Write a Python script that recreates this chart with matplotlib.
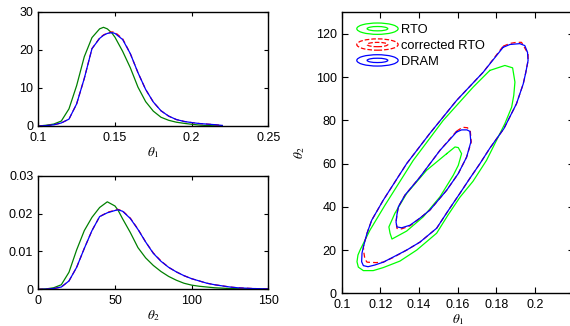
import matplotlib
matplotlib.use("Agg")
import matplotlib.pyplot as plt
from matplotlib.legend_handler import HandlerBase
from matplotlib.patches import Ellipse
from matplotlib.lines import Line2D

plt.rcParams["font.family"] = ["Liberation Sans", "DejaVu Sans"]
plt.rcParams["mathtext.fontset"] = "stix"

# ---- marginal density of theta_1 ----
t1_grid = [0.100, 0.105, 0.110, 0.115, 0.120, 0.125, 0.130, 0.135, 0.140, 0.1425,
           0.145, 0.148, 0.150, 0.155, 0.160, 0.165, 0.170, 0.175, 0.180, 0.185,
           0.190, 0.195, 0.200, 0.205, 0.210, 0.215, 0.220]
t1_rto = [0.0, 0.2, 0.5, 1.3, 4.5, 10.6, 18.2, 23.2, 25.5, 25.9,
          25.5, 24.4, 23.3, 19.6, 15.3, 10.2, 6.4, 3.9, 2.3, 1.5,
          1.0, 0.7, 0.45, 0.25, 0.12, 0.05, 0.0]
t1_corr = [0.0, 0.1, 0.3, 0.8, 1.8, 5.8, 12.5, 20.3, 23.1, 23.9,
           24.4, 24.7, 24.6, 22.9, 19.0, 14.0, 9.6, 6.3, 4.0, 2.6,
           1.7, 1.2, 0.9, 0.65, 0.5, 0.35, 0.15]
t1_dram = [0.0, 0.1, 0.3, 0.8, 1.8, 5.8, 12.5, 20.3, 23.0, 23.8,
           24.3, 24.5, 24.3, 22.7, 19.0, 14.0, 9.6, 6.3, 4.0, 2.6,
           1.7, 1.2, 0.9, 0.65, 0.5, 0.35, 0.15]

# ---- marginal density of theta_2 ----
t2_grid = [0, 5, 10, 15, 20, 25, 30, 35, 40, 45, 50, 52, 55, 60, 65, 70, 75, 80,
           85, 90, 95, 100, 105, 110, 115, 120, 125, 130, 140, 150]
t2_rto = [0.0, 0.0001, 0.0004, 0.0012, 0.0045, 0.0104, 0.0155, 0.0190, 0.0216, 0.0231,
          0.0220, 0.0209, 0.0186, 0.0150, 0.0110, 0.0083, 0.0063, 0.0047,
          0.0034, 0.0024, 0.0016, 0.0011, 0.0008, 0.0006, 0.0004, 0.0003, 0.0002,
          0.00015, 0.0001, 0.0]
t2_corr = [0.0, 0.00005, 0.0002, 0.0006, 0.0022, 0.0058, 0.0108, 0.0155, 0.0192, 0.0203,
           0.0209, 0.0211, 0.0207, 0.0188, 0.0159, 0.0125, 0.0096, 0.0075,
           0.0058, 0.0046, 0.0036, 0.0028, 0.0022, 0.0016, 0.0012, 0.0009, 0.0006,
           0.0004, 0.0002, 0.0001]
t2_dram = [0.0, 0.00005, 0.0002, 0.0006, 0.0022, 0.0058, 0.0108, 0.0155, 0.0192, 0.0202,
           0.0208, 0.0210, 0.0206, 0.0187, 0.0158, 0.0125, 0.0095, 0.0074,
           0.0058, 0.0046, 0.0036, 0.0028, 0.0022, 0.0016, 0.0012, 0.0009, 0.0006,
           0.0004, 0.0002, 0.0001]

# ---- joint posterior contours (theta_1, theta_2), two levels per method ----
rto_outer_t1 = [0.1766, 0.1844, 0.1884, 0.1896, 0.1890, 0.1879, 0.1844, 0.1801, 0.1749,
                0.1679, 0.1611, 0.1549, 0.1491, 0.1388, 0.1301, 0.1215, 0.1163, 0.1112,
                0.1086, 0.1079, 0.1084, 0.1095, 0.1146, 0.1224, 0.1370, 0.1525, 0.1680, 0.1766]
rto_outer_t2 = [103.1, 105.4, 104.3, 97.7, 91.6, 86.1, 78.5, 70.8, 61.5,
                51.8, 44.4, 36.1, 27.8, 20.0, 14.9, 11.9, 10.5, 10.5,
                12.1, 14.6, 17.7, 20.0, 29.2, 40.8, 61.5, 80.0, 95.4, 103.1]
rto_inner_t1 = [0.1543, 0.1586, 0.1603, 0.1620, 0.1603, 0.1577, 0.1508, 0.1422, 0.1336,
                0.1260, 0.1250, 0.1244, 0.1275, 0.1336, 0.1439, 0.1543]
rto_inner_t2 = [64.6, 67.7, 67.4, 64.6, 59.2, 54.6, 44.6, 35.4, 28.8,
                25.1, 27.8, 30.7, 37.0, 46.2, 56.9, 64.6]

dram_outer_t1 = [0.1835, 0.1870, 0.1921, 0.1947, 0.1961, 0.1964, 0.1952, 0.1939, 0.1904,
                 0.1839, 0.1766, 0.1715, 0.1663, 0.1611, 0.1549, 0.1491, 0.1405, 0.1336,
                 0.1267, 0.1215, 0.1172, 0.1136, 0.1112, 0.1103, 0.1105, 0.1112, 0.1131,
                 0.1155, 0.1215, 0.1336, 0.1456, 0.1594, 0.1732, 0.1835]
dram_outer_t2 = [113.8, 115.1, 115.5, 114.6, 111.5, 107.7, 102.1, 96.9, 87.7,
                 76.2, 67.1, 60.0, 53.2, 46.2, 38.0, 30.1, 23.7, 20.0,
                 16.8, 14.4, 13.1, 12.3, 12.8, 14.6, 18.6, 21.5, 27.8,
                 33.8, 43.1, 60.0, 74.0, 89.2, 102.3, 113.8]
dram_inner_t1 = [0.1594, 0.1620, 0.1648, 0.1663, 0.1668, 0.1646, 0.1603, 0.1543, 0.1456,
                 0.1405, 0.1353, 0.1310, 0.1286, 0.1281, 0.1286, 0.1293, 0.1327, 0.1405,
                 0.1508, 0.1594]
dram_inner_t2 = [74.6, 75.6, 75.6, 74.9, 70.0, 63.0, 55.4, 47.7, 38.5,
                 34.8, 31.5, 30.3, 30.7, 32.9, 36.6, 40.0, 45.4, 53.8,
                 66.1, 74.6]

corr_outer_t1 = [0.1835, 0.1870, 0.1904, 0.1930, 0.1964, 0.1964, 0.1952, 0.1939, 0.1904,
                 0.1839, 0.1766, 0.1715, 0.1663, 0.1611, 0.1549, 0.1491, 0.1405, 0.1336,
                 0.1267, 0.1215, 0.1177, 0.1131, 0.1120, 0.1115, 0.1112, 0.1131,
                 0.1155, 0.1215, 0.1336, 0.1456, 0.1594, 0.1732, 0.1835]
corr_outer_t2 = [114.3, 115.6, 116.1, 116.1, 110.8, 107.7, 102.1, 96.9, 87.7,
                 76.2, 67.1, 60.0, 53.2, 46.2, 38.0, 30.1, 23.7, 20.0,
                 16.6, 14.4, 14.2, 14.4, 15.8, 18.6, 21.5, 27.8,
                 33.8, 43.1, 60.0, 74.0, 89.2, 102.3, 114.3]
corr_inner_t1 = [0.1594, 0.1625, 0.1650, 0.1665, 0.1670, 0.1646, 0.1603, 0.1543, 0.1456,
                 0.1405, 0.1353, 0.1310, 0.1286, 0.1281, 0.1286, 0.1293, 0.1327, 0.1405,
                 0.1508, 0.1594]
corr_inner_t2 = [75.0, 76.8, 76.6, 75.2, 70.0, 63.0, 55.4, 47.7, 38.5,
                 34.8, 31.2, 29.8, 30.0, 32.9, 36.6, 40.0, 45.4, 53.8,
                 66.1, 75.0]

# ---- axis ticks ----
t1_ticks = [0.1, 0.15, 0.2, 0.25]
t1_ticklabels = ["0.1", "0.15", "0.2", "0.25"]
dens1_ticks = [0, 10, 20, 30]
dens1_ticklabels = ["0", "10", "20", "30"]
t2_ticks = [0, 50, 100, 150]
t2_ticklabels = ["0", "50", "100", "150"]
dens2_ticks = [0, 0.01, 0.02, 0.03]
dens2_ticklabels = ["0", "0.01", "0.02", "0.03"]
joint_xticks = [0.1, 0.12, 0.14, 0.16, 0.18, 0.2]
joint_xticklabels = ["0.1", "0.12", "0.14", "0.16", "0.18", "0.2"]
joint_yticks = [0, 20, 40, 60, 80, 100, 120]
joint_yticklabels = ["0", "20", "40", "60", "80", "100", "120"]

method_labels = ["RTO", "corrected RTO", "DRAM"]

DARK_GREEN = "#008000"
GREEN = "#00ff00"
RED = "#ff0000"
BLUE = "#0000ff"
LW = 0.9
DASH = (0, (4, 2.5))
TICK_FS = 9
LABEL_FS = 9.5


def style_axes(ax, ticklen):
    for sp in ax.spines.values():
        sp.set_linewidth(1.0)
    ax.tick_params(direction="in", top=True, right=True, length=ticklen,
                   width=0.8, labelsize=TICK_FS, colors="black")
    ax.tick_params(axis="x", pad=4.3)
    ax.tick_params(axis="y", pad=3.6)


fig = plt.figure(figsize=(5.7, 3.26), dpi=100)
ax1 = fig.add_axes([0.0672, 0.6135, 0.4035, 0.3506])
ax2 = fig.add_axes([0.0672, 0.1126, 0.4035, 0.3485])
ax3 = fig.add_axes([0.5995, 0.1003, 0.407, 0.862])

# theta_1 marginal
ax1.plot(t1_grid, t1_rto, color=DARK_GREEN, lw=LW)
ax1.plot(t1_grid, t1_corr, color=RED, lw=LW, ls=DASH)
ax1.plot(t1_grid, t1_dram, color=BLUE, lw=LW)
ax1.set_xlim(0.1, 0.25)
ax1.set_ylim(0, 30)
ax1.set_xticks(t1_ticks, t1_ticklabels)
ax1.set_yticks(dens1_ticks, dens1_ticklabels)
ax1.set_xlabel(r"$\theta_1$", fontsize=LABEL_FS, labelpad=1)
style_axes(ax1, 3)

# theta_2 marginal
ax2.plot(t2_grid, t2_rto, color=DARK_GREEN, lw=LW)
ax2.plot(t2_grid, t2_corr, color=RED, lw=LW, ls=DASH)
ax2.plot(t2_grid, t2_dram, color=BLUE, lw=LW)
ax2.set_xlim(0, 150)
ax2.set_ylim(0, 0.03)
ax2.set_xticks(t2_ticks, t2_ticklabels)
ax2.set_yticks(dens2_ticks, dens2_ticklabels)
ax2.set_xlabel(r"$\theta_2$", fontsize=LABEL_FS, labelpad=1)
style_axes(ax2, 3)

# joint contours
ax3.plot(rto_outer_t1, rto_outer_t2, color=GREEN, lw=LW)
ax3.plot(rto_inner_t1, rto_inner_t2, color=GREEN, lw=LW)
ax3.plot(corr_outer_t1, corr_outer_t2, color=RED, lw=LW, ls=DASH)
ax3.plot(corr_inner_t1, corr_inner_t2, color=RED, lw=LW, ls=DASH)
ax3.plot(dram_outer_t1, dram_outer_t2, color=BLUE, lw=LW)
ax3.plot(dram_inner_t1, dram_inner_t2, color=BLUE, lw=LW)
ax3.set_xlim(0.1, 0.22)
ax3.set_ylim(0, 130)
ax3.set_xticks(joint_xticks, joint_xticklabels)
ax3.set_yticks(joint_yticks, joint_yticklabels)
ax3.set_xlabel(r"$\theta_1$", fontsize=LABEL_FS, labelpad=0.5)
ax3.set_ylabel(r"$\theta_2$", fontsize=LABEL_FS, labelpad=6)
style_axes(ax3, 4)


class ContourHandler(HandlerBase):
    """Legend key drawn as two nested contour rings."""

    def create_artists(self, legend, orig_handle, xdescent, ydescent,
                       width, height, fontsize, trans):
        cx = width / 2 - xdescent
        cy = height / 2 - ydescent
        kw = dict(fill=False, edgecolor=orig_handle.get_color(),
                  linewidth=orig_handle.get_linewidth(),
                  linestyle=orig_handle.get_linestyle(), transform=trans)
        outer = Ellipse((cx, cy), width, height * 1.1, **kw)
        inner = Ellipse((cx, cy), width * 0.5, height * 0.42, **kw)
        return [outer, inner]


handles = [Line2D([], [], color=GREEN, lw=LW),
           Line2D([], [], color=RED, lw=LW, ls=(0, (3, 2.5))),
           Line2D([], [], color=BLUE, lw=LW)]
ax3.legend(handles, method_labels, loc="upper left",
           bbox_to_anchor=(0.065, 0.96), frameon=False, fontsize=9.3,
           borderpad=0, borderaxespad=0, handlelength=3.2, handleheight=0.85,
           handletextpad=0.25, labelspacing=0.25,
           handler_map={Line2D: ContourHandler()})

fig.savefig("out.png", dpi=100)
